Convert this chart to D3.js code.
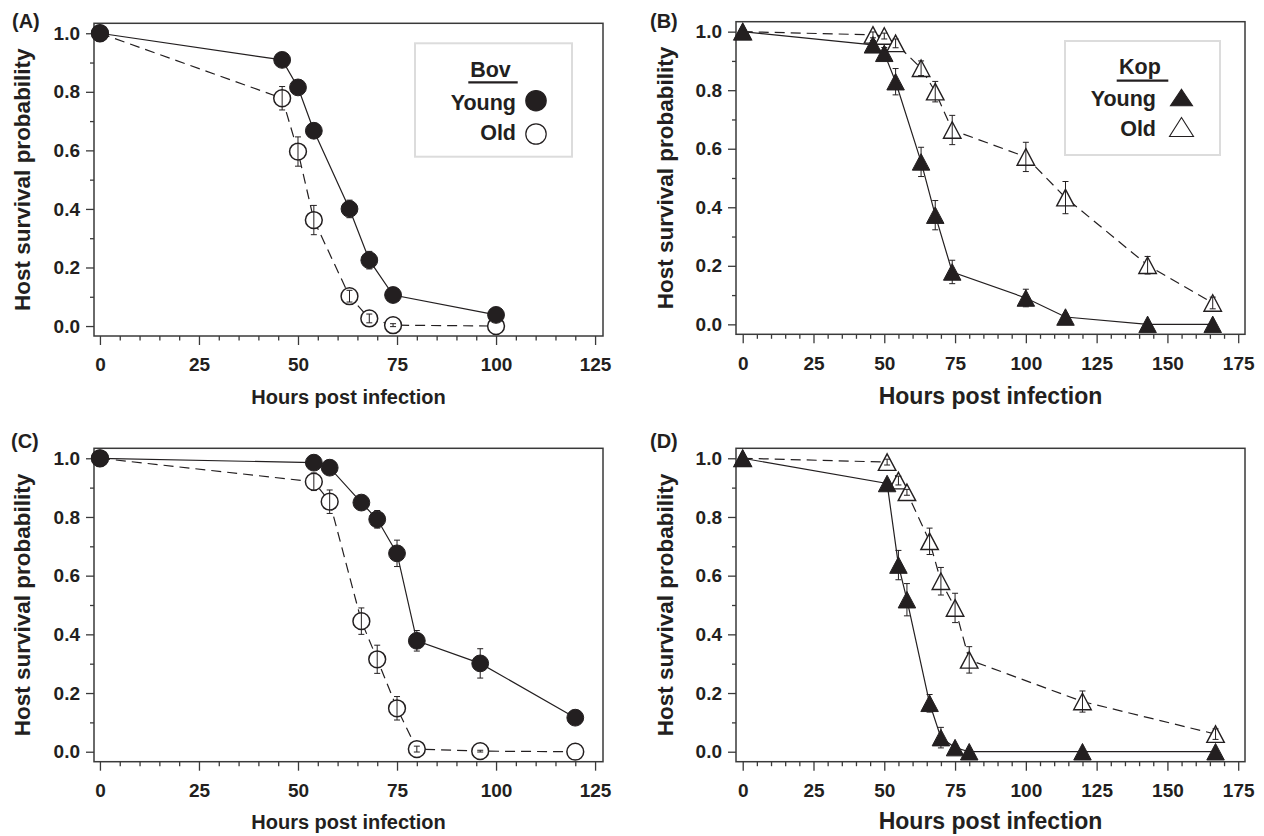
<!DOCTYPE html>
<html><head><meta charset="utf-8">
<script src="https://cdn.jsdelivr.net/npm/d3@7"></script>
<style>
body{margin:0;background:#fff}
text{font-family:"Liberation Sans",Arial,Helvetica,sans-serif;font-weight:bold;fill:#231f20}
</style>
</head><body>
<svg id="chart" width="1264" height="836"></svg>
<script>
// ---------- DATA ----------
// Panel A : Bov (first experiment)
const hoursA      = [0, 46, 50, 54, 63, 68, 74, 100];
const youngA      = [1.0, 0.909, 0.815, 0.667, 0.400, 0.225, 0.106, 0.038];
const youngErrA   = [0, 0.010, 0.015, 0.020, 0.030, 0.030, 0.015, 0.010];
const oldA        = [1.0, 0.778, 0.596, 0.362, 0.102, 0.026, 0.003, 0.0];
const oldErrA     = [0, 0.040, 0.050, 0.050, 0.020, 0.015, 0.005, 0];

// Panel B : Kop (first experiment)
const hoursB      = [0, 46, 50, 54, 63, 68, 74, 100, 114, 143, 166];
const youngB      = [1.0, 0.955, 0.926, 0.829, 0.555, 0.373, 0.179, 0.090, 0.025, 0.0, 0.0];
const youngErrB   = [0, 0.015, 0.020, 0.045, 0.050, 0.050, 0.040, 0.030, 0.010, 0, 0];
const oldB        = [1.0, 0.989, 0.985, 0.960, 0.875, 0.795, 0.664, 0.572, 0.433, 0.202, 0.073];
const oldErrB     = [0, 0.010, 0.010, 0.015, 0.025, 0.035, 0.050, 0.050, 0.055, 0.030, 0.020];

// Panel C : Bov (second experiment)
const hoursC      = [0, 54, 58, 66, 70, 75, 80, 96, 120];
const youngC      = [1.0, 0.985, 0.968, 0.849, 0.792, 0.676, 0.378, 0.301, 0.116];
const youngErrC   = [0, 0.010, 0.010, 0.015, 0.030, 0.045, 0.035, 0.050, 0.010];
const oldC        = [1.0, 0.920, 0.852, 0.445, 0.315, 0.148, 0.009, 0.002, 0.0];
const oldErrC     = [0, 0.030, 0.040, 0.045, 0.048, 0.040, 0.010, 0.003, 0];

// Panel D : Kop (second experiment)
const hoursD      = [0, 51, 55, 58, 66, 70, 75, 80, 120, 167];
const youngD      = [1.0, 0.914, 0.636, 0.518, 0.165, 0.048, 0.014, 0.0, 0.0, 0.0];
const youngErrD   = [0, 0.010, 0.050, 0.055, 0.030, 0.035, 0.010, 0, 0, 0];
const oldD        = [1.0, 0.987, 0.924, 0.884, 0.717, 0.581, 0.490, 0.313, 0.171, 0.060];
const oldErrD     = [0, 0.010, 0.015, 0.010, 0.045, 0.047, 0.050, 0.045, 0.036, 0.018];

// Tick labels
const yTicks      = [0, 0.2, 0.4, 0.6, 0.8, 1.0];
const yMinorTicks = [0.1, 0.3, 0.5, 0.7, 0.9];
const xTicksBov   = [0, 25, 50, 75, 100, 125];
const xTicksKop   = [0, 25, 50, 75, 100, 125, 150, 175];
const panelLabels = ["(A)", "(B)", "(C)", "(D)"];
const xTitle      = "Hours post infection";
const yTitle      = "Host survival probability";
const legendTitles = ["Bov", "Kop"];
const legendItems  = ["Young", "Old"];

// ---------- LAYOUT ----------
const svg = d3.select("#chart");
const ink = "#231f20";
const axisCol = "#3a3a3a";

const panels = [
  {hours:hoursA, young:youngA, yErr:youngErrA, old:oldA, oErr:oldErrA, shape:"circle", xt:xTicksBov,
   xd:[-1.5,127], xr:[94,603], yr:[336,23.3], label:panelLabels[0], lx:12, ly:27.5,
   xtSize:20, xtY:404, ytX:30, legend:0},
  {hours:hoursB, young:youngB, yErr:youngErrB, old:oldB, oErr:oldErrB, shape:"tri", xt:xTicksKop,
   xd:[-2.37,177.4], xr:[736,1245], yr:[334.3,21.7], label:panelLabels[1], lx:650, ly:28,
   xtSize:23, xtY:404, ytX:672.5, legend:1},
  {hours:hoursC, young:youngC, yErr:youngErrC, old:oldC, oErr:oldErrC, shape:"circle", xt:xTicksBov,
   xd:[-1.5,127], xr:[94,603], yr:[761.7,448.3], label:panelLabels[2], lx:11, ly:448,
   xtSize:20, xtY:829, ytX:30, legend:-1},
  {hours:hoursD, young:youngD, yErr:youngErrD, old:oldD, oErr:oldErrD, shape:"tri", xt:xTicksKop,
   xd:[-2.37,177.4], xr:[736,1245], yr:[761.7,448.3], label:panelLabels[3], lx:650, ly:448,
   xtSize:23, xtY:829, ytX:672.5, legend:-1}
];

const triPath = (w, h) => `M0,${-h/2}L${w/2},${h/2}L${-w/2},${h/2}Z`;

function drawMarker(g, shape, filled, cx, cy) {
  if (shape === "circle") {
    g.append("circle").attr("cx", cx).attr("cy", cy).attr("r", 8.4)
      .attr("fill", filled ? ink : "#fff").attr("stroke", ink).attr("stroke-width", filled ? 1 : 1.5);
  } else {
    g.append("path").attr("d", triPath(17.5, 16.5))
      .attr("transform", `translate(${cx},${cy})`)
      .attr("fill", filled ? ink : "#fff").attr("stroke", ink)
      .attr("stroke-width", filled ? 1 : 1.4).attr("stroke-linejoin", "miter");
  }
}

panels.forEach(p => {
  const x = d3.scaleLinear().domain(p.xd).range(p.xr);
  const y = d3.scaleLinear().domain([-0.034, 1.034]).range(p.yr);
  const g = svg.append("g");
  const bottom = p.yr[0], left = p.xr[0];

  // frame
  g.append("rect").attr("x", p.xr[0]).attr("y", p.yr[1])
    .attr("width", p.xr[1] - p.xr[0]).attr("height", p.yr[0] - p.yr[1])
    .attr("fill", "none").attr("stroke", axisCol).attr("stroke-width", 1.5);

  // y axis
  const ya = g.append("g").attr("transform", `translate(${left},0)`)
    .call(d3.axisLeft(y).tickValues(yTicks).tickSize(8).tickPadding(6).tickFormat(d3.format(".1f")));
  ya.append("g").call(d3.axisLeft(y).tickValues(yMinorTicks).tickSize(4).tickFormat(""));
  // x axis
  const xa = g.append("g").attr("transform", `translate(0,${bottom})`)
    .call(d3.axisBottom(x).tickValues(p.xt).tickSize(9).tickPadding(13).tickFormat(d3.format("d")));
  const minor = d3.range(5, p.xt[p.xt.length - 1], 5).filter(v => v % 25 !== 0);
  xa.append("g").call(d3.axisBottom(x).tickValues(minor).tickSize(4.5).tickFormat(""));
  g.selectAll(".domain").remove();
  g.selectAll(".tick line").attr("stroke", axisCol).attr("stroke-width", 1.3);
  g.selectAll(".tick text").attr("font-size", 19).attr("font-family", "'Liberation Sans',Arial,sans-serif")
    .attr("font-weight", "bold").attr("fill", ink);

  // titles
  g.append("text").attr("x", (p.xr[0] + p.xr[1]) / 2).attr("y", p.xtY)
    .attr("text-anchor", "middle").attr("font-size", p.xtSize).text(xTitle);
  g.append("text").attr("transform", `translate(${p.ytX},${(p.yr[0] + p.yr[1]) / 2}) rotate(-90)`)
    .attr("text-anchor", "middle").attr("font-size", 22.5).text(yTitle);
  g.append("text").attr("x", p.lx).attr("y", p.ly).attr("font-size", 20).text(p.label);

  // lines
  const line = d3.line().x(d => x(d[0])).y(d => y(d[1]));
  const oldPts = p.hours.map((h, i) => [h, p.old[i], p.oErr[i]]);
  const youngPts = p.hours.map((h, i) => [h, p.young[i], p.yErr[i]]);
  g.append("path").datum(oldPts).attr("d", line).attr("fill", "none")
    .attr("stroke", ink).attr("stroke-width", 1.2).attr("stroke-dasharray", "10,6");
  g.append("path").datum(youngPts).attr("d", line).attr("fill", "none")
    .attr("stroke", ink).attr("stroke-width", 1.2);

  const errBars = (pts) => {
    pts.forEach(d => {
      if (d[2] <= 0) return;
      const cx = x(d[0]), y1 = y(d[1] + d[2]), y2 = y(Math.max(d[1] - d[2], -0.03));
      g.append("line").attr("x1", cx).attr("x2", cx).attr("y1", y1).attr("y2", y2)
        .attr("stroke", ink).attr("stroke-width", 1);
      [y1, y2].forEach(yy => g.append("line").attr("x1", cx - 3).attr("x2", cx + 3)
        .attr("y1", yy).attr("y2", yy).attr("stroke", ink).attr("stroke-width", 1));
    });
  };
  oldPts.forEach(d => drawMarker(g, p.shape, false, x(d[0]), y(d[1])));
  errBars(oldPts);
  errBars(youngPts);
  youngPts.forEach(d => drawMarker(g, p.shape, true, x(d[0]), y(d[1])));

  // legend
  if (p.legend >= 0) {
    const L = p.legend === 0
      ? {x0:415, y0:43.3, w:157, h:113.4, tx:490.5, ty:77, ux:[468.3,517.7], uy:82.3, lx:516, ly:[110,140], mx:536, my:[100.7,134]}
      : {x0:1065, y0:41, w:155, h:114, tx:1140, ty:73.5, ux:[1116.7,1168.3], uy:80.7, lx:1156, ly:[106,136], mx:1181.5, my:[97.5,127]};
    const lg = g.append("g");
    lg.append("rect").attr("x", L.x0).attr("y", L.y0).attr("width", L.w).attr("height", L.h)
      .attr("fill", "#fff").attr("stroke", "#dcdcdc").attr("stroke-width", 2);
    lg.append("text").attr("x", L.tx).attr("y", L.ty).attr("text-anchor", "middle")
      .attr("font-size", 21.5).text(legendTitles[p.legend]);
    lg.append("line").attr("x1", L.ux[0]).attr("x2", L.ux[1]).attr("y1", L.uy).attr("y2", L.uy)
      .attr("stroke", ink).attr("stroke-width", 2.2);
    legendItems.forEach((t, i) => {
      lg.append("text").attr("x", L.lx).attr("y", L.ly[i]).attr("text-anchor", "end")
        .attr("font-size", 21.5).text(t);
      if (p.shape === "circle") {
        lg.append("circle").attr("cx", L.mx).attr("cy", L.my[i]).attr("r", 10.2)
          .attr("fill", i === 0 ? ink : "#fff").attr("stroke", ink).attr("stroke-width", 1.2);
      } else {
        lg.append("path").attr("d", i === 0 ? triPath(22, 16.5) : triPath(24, 19))
          .attr("transform", `translate(${L.mx},${L.my[i]})`)
          .attr("fill", i === 0 ? ink : "#fff").attr("stroke", ink).attr("stroke-width", 1.1);
      }
    });
  }
});
</script>
</body></html>
